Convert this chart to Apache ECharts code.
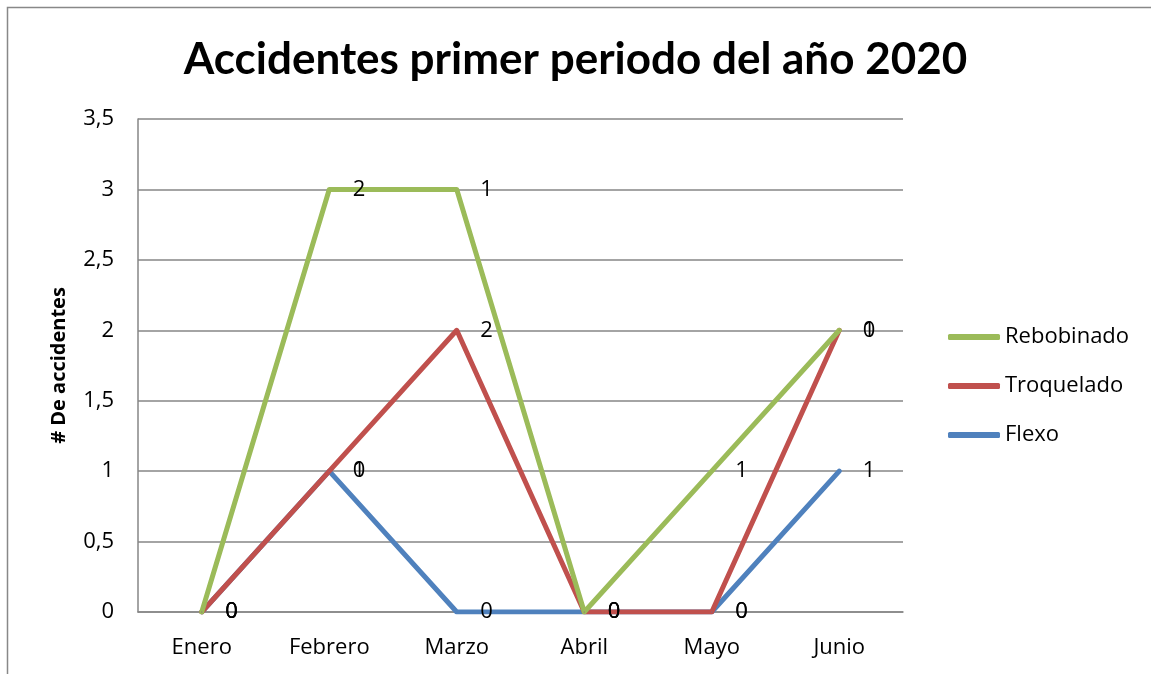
<!DOCTYPE html>
<html><head><meta charset="utf-8">
<script src="https://cdn.jsdelivr.net/npm/echarts@6/dist/echarts.min.js"></script>
<style>html,body{margin:0;padding:0;background:#fff}#c{width:1151px;height:674px}</style>
</head><body><div id="c"></div>
<script>
const categories = ['Enero','Febrero','Marzo','Abril','Mayo','Junio'];
const flexo = [0,1,0,0,0,1];
const troquelado = [0,0,2,0,0,1];
const rebobinado = [0,2,1,0,1,0];
const legendOrder = ['Rebobinado','Troquelado','Flexo'];
const FONT = '"Open Sans", sans-serif';
const TFONT = 'Lato, sans-serif';

function mk(name, data, color){
  return {
    name, type:'line', stack:'total', data,
    showSymbol:true, symbol:'circle', symbolSize:1,
    lineStyle:{color, width:5, cap:'round', join:'round'},
    itemStyle:{color},
    label:{show:true, position:'right', distance:23, color:'#000', fontSize:22, fontFamily:FONT, formatter:p=>String(p.value)},
    emphasis:{disabled:true}, animation:false
  };
}
const chart = echarts.init(document.getElementById('c'));
chart.setOption({
  animation:false,
  backgroundColor:'#fff',
  graphic:[{type:'rect', shape:{x:7.5,y:7.5,width:1200,height:800}, style:{fill:'none', stroke:'#888', lineWidth:1.5}, silent:true}],
  title:{text:'Accidentes primer periodo del año 2020', left:'center', top:38, textStyle:{fontFamily:TFONT, fontWeight:'bold', fontSize:44, color:'#000'}, padding:0},
  legend:{orient:'vertical', left:943, top:321, itemWidth:52, itemHeight:6, itemGap:27, icon:'roundRect',
    data:legendOrder, textStyle:{fontFamily:FONT, fontSize:22, color:'#000'}},
  grid:{left:138, right:248, top:119, bottom:62, containLabel:false},
  xAxis:{type:'category', data:categories, boundaryGap:true,
    axisLine:{lineStyle:{color:'#868686', width:1.5}}, axisTick:{show:false},
    axisLabel:{color:'#000', fontSize:22, fontFamily:FONT, margin:25}},
  yAxis:{type:'value', min:0, max:3.5, interval:0.5,
    name:'# De accidentes', nameLocation:'middle', nameGap:69, nameRotate:90,
    nameTextStyle:{fontFamily:FONT, fontWeight:'bold', fontSize:20, color:'#000'},
    axisLine:{show:true, lineStyle:{color:'#868686', width:1.5}}, axisTick:{show:false},
    splitLine:{lineStyle:{color:'#868686', width:1.5}},
    axisLabel:{color:'#000', fontSize:22, fontFamily:FONT, margin:24, formatter:v=>String(v).replace('.',',')}},
  series:[mk('Flexo', flexo, '#4F81BD'), mk('Troquelado', troquelado, '#C0504D'), mk('Rebobinado', rebobinado, '#9BBB59')]
});
</script></body></html>
